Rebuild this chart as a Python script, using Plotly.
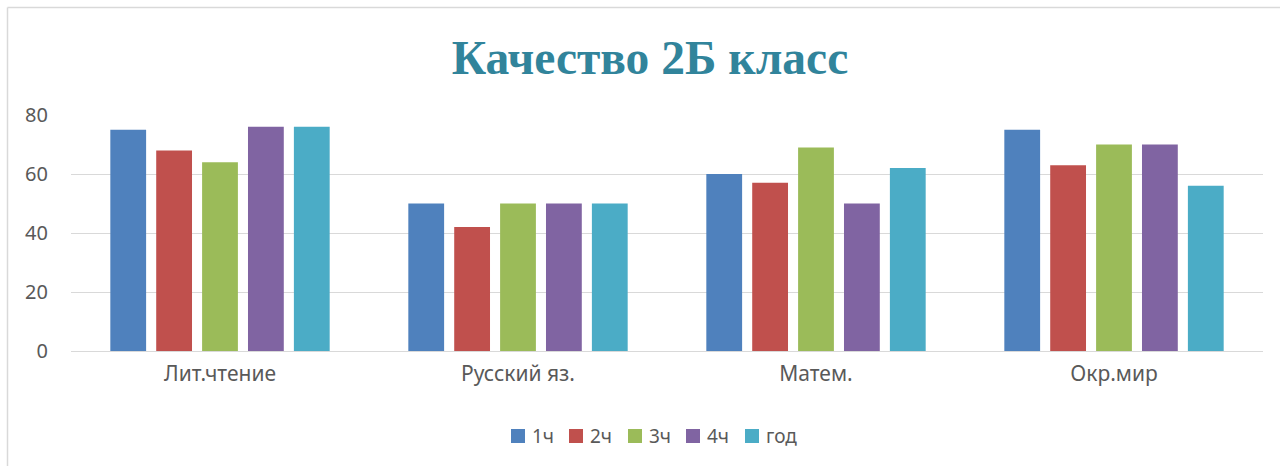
import plotly.graph_objects as go

categories = ["Лит.чтение", "Русский яз.", "Матем.", "Окр.мир"]
series_names = ["1ч", "2ч", "3ч", "4ч", "год"]
s_1ch = [75, 50, 60, 75]
s_2ch = [68, 42, 57, 63]
s_3ch = [64, 50, 69, 70]
s_4ch = [76, 50, 50, 70]
s_god = [76, 50, 62, 56]
y_ticks = [0, 20, 40, 60, 80]
title_text = "Качество 2Б класс"

values = [s_1ch, s_2ch, s_3ch, s_4ch, s_god]
colors = ["#4F81BD", "#C0504D", "#9BBB59", "#8064A2", "#4BACC6"]

fig = go.Figure()
for name, vals, col in zip(series_names, values, colors):
    fig.add_trace(go.Bar(x=categories, y=vals, name=name, marker_color=col,
                         marker_line_width=0, showlegend=False))

W, H = 1280, 466
ml, mr, mt, mb = 71, 17, 115, 115
pw = W - ml - mr
ph = H - mt - mb

def px_x(p):
    return (p - ml) / pw

def px_y(p):
    return (H - mb - p) / ph

fig.update_layout(
    width=W, height=H,
    margin=dict(l=ml, r=mr, t=mt, b=mb, autoexpand=False),
    paper_bgcolor="white", plot_bgcolor="white",
    barmode="group", bargap=0.23, bargroupgap=0.22,
    font=dict(family="Noto Sans", color="#595959", size=16),
    title=dict(text="<b>" + title_text + "</b>", xref="container",
               x=650 / W, xanchor="center",
               y=1 - 57 / H, yanchor="middle",
               font=dict(family="Liberation Serif", size=47.5, color="#31849B")),
    xaxis=dict(showgrid=False, showline=False, ticks="",
               ticklabelstandoff=8,
               tickfont=dict(size=21, color="#595959")),
    yaxis=dict(range=[0, 80], tickvals=y_ticks, showgrid=True,
               gridcolor="#D9D9D9", gridwidth=1.3, zeroline=True,
               zerolinecolor="#D9D9D9", zerolinewidth=1.3, showline=False,
               ticks="", ticklabelstandoff=22,
               tickfont=dict(size=20, color="#595959")),
    showlegend=False,
)

# custom legend (square swatch + label), laid out like the reference
legend_left = [511, 569, 628, 686, 745]
sq = 14
ly = 436
for name, col, lx in zip(series_names, colors, legend_left):
    fig.add_shape(type="rect", xref="paper", yref="paper",
                  x0=px_x(lx), x1=px_x(lx + sq),
                  y0=px_y(ly + sq / 2), y1=px_y(ly - sq / 2),
                  fillcolor=col, line=dict(width=0))
    fig.add_annotation(xref="paper", yref="paper", x=px_x(lx + sq + 5),
                       y=px_y(ly), xanchor="left", yanchor="middle",
                       text=name, showarrow=False,
                       font=dict(size=19, color="#595959"))

# frame lines of the chart area
fig.add_shape(type="line", xref="paper", yref="paper",
              x0=px_x(7.5), x1=px_x(7.5), y0=px_y(470), y1=px_y(7.5),
              line=dict(color="#D9D9D9", width=1.5))
fig.add_shape(type="line", xref="paper", yref="paper",
              x0=px_x(7.5), x1=px_x(1290), y0=px_y(7.5), y1=px_y(7.5),
              line=dict(color="#D9D9D9", width=1.5))

fig.write_html("out.html", config={"displayModeBar": False},
               post_script="document.body.style.margin='0';document.body.style.overflow='hidden';")
